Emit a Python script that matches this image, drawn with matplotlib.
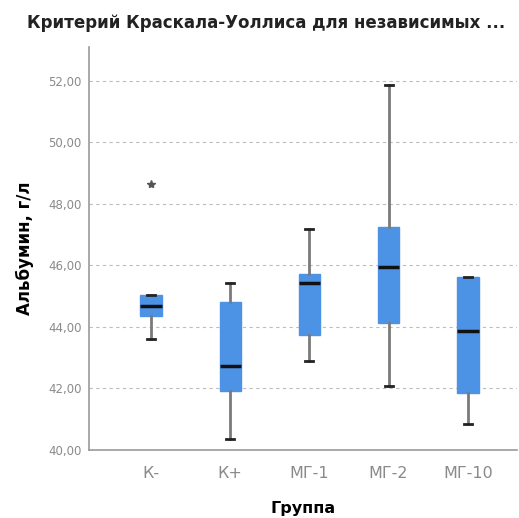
import numpy as np
import matplotlib
matplotlib.use('Agg')
import matplotlib.pyplot as plt
import matplotlib.ticker as ticker

plt.rcParams['font.family'] = ['DejaVu Sans']

# значения
groups   = ['К-', 'К+', 'МГ-1', 'МГ-2', 'МГ-10']
whislo   = [43.61, 40.35, 42.88, 42.07, 40.85]
q1       = [44.35, 41.92, 43.73, 44.13, 41.83]
medians  = [44.67, 42.73, 45.41, 45.95, 43.87]
q3       = [45.02, 44.81, 45.71, 47.26, 45.62]
whishi   = [45.02, 45.41, 47.18, 51.87, 45.63]
outliers = [[48.64], [], [], [], []]
y_ticks  = [40, 42, 44, 46, 48, 50, 52]

stats = []
for i, g in enumerate(groups):
    stats.append({'label': g, 'whislo': whislo[i], 'q1': q1[i], 'med': medians[i],
                  'q3': q3[i], 'whishi': whishi[i], 'fliers': outliers[i]})

fig = plt.figure(figsize=(5.19, 5.18), dpi=100)
ax = fig.add_axes([0.171, 0.132, 0.825, 0.777])

pos = np.arange(1, len(groups) + 1)
ax.bxp(stats, positions=pos, widths=0.27, patch_artist=True,
       boxprops=dict(facecolor='#4c93e6', edgecolor='#4c93e6', linewidth=1),
       medianprops=dict(color='#111111', linewidth=2.5),
       whiskerprops=dict(color='#7a7a7a', linewidth=2),
       capprops=dict(color='#222222', linewidth=2),
       capwidths=0.1,
       flierprops=dict(marker='*', markersize=6, markerfacecolor='#555555',
                       markeredgecolor='#555555', linestyle='none'),
       zorder=3)

ax.set_xlim(0.214, 5.62)
ax.set_ylim(40, 53.1)
ax.set_yticks(y_ticks)
ax.yaxis.set_major_formatter(ticker.FuncFormatter(lambda v, p: f'{v:.2f}'.replace('.', ',')))
for y in y_ticks[1:]:
    ax.axhline(y, color='#bdbdbd', linestyle=(0, (3, 3)), linewidth=0.8, zorder=1)

for s in ['top', 'right']:
    ax.spines[s].set_visible(False)
for s in ['left', 'bottom']:
    ax.spines[s].set_color('#9a9a9a')
    ax.spines[s].set_linewidth(1.2)
ax.tick_params(axis='both', length=0, colors='#8a8a8a')
ax.tick_params(axis='y', labelsize=8.5, pad=5)
ax.tick_params(axis='x', labelsize=11.5, pad=12)

ax.set_ylabel('Альбумин, г/л', fontsize=12, fontweight='bold', labelpad=10)
ax.set_xlabel('Группа', fontsize=11.5, fontweight='bold', labelpad=14)
fig.text(0.052, 0.955, 'Критерий Краскала-Уоллиса для независимых ...',
         fontsize=12, fontweight='bold', ha='left', va='center', color='#222222')

plt.savefig('out.png', dpi=100)
plt.close()
